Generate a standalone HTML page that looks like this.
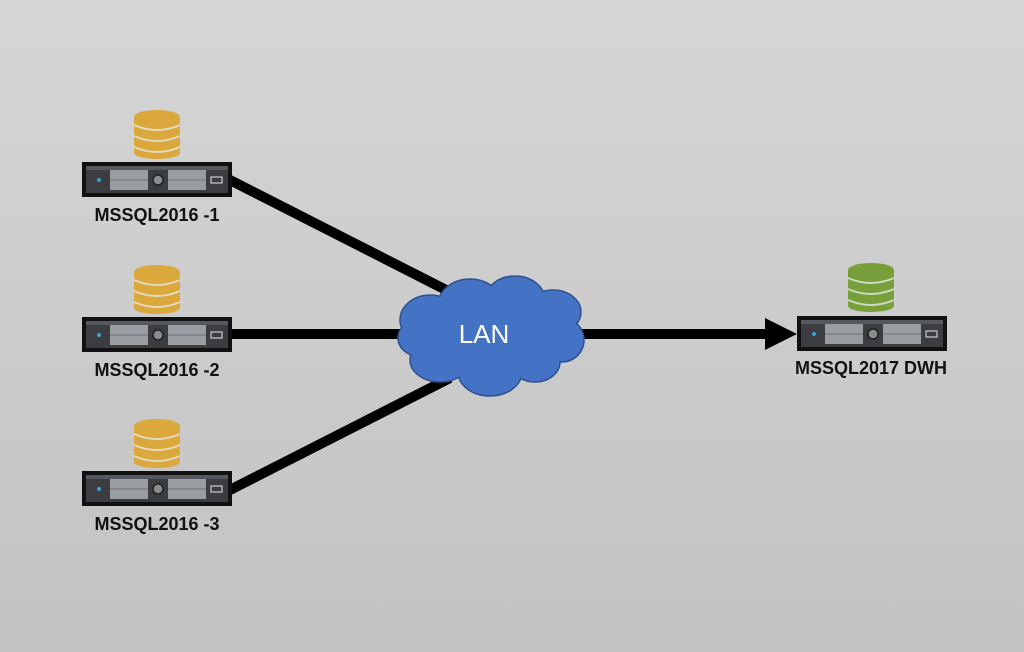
<!DOCTYPE html>
<html><head><style>
html,body{margin:0;padding:0;}
body{width:1024px;height:652px;overflow:hidden;background:linear-gradient(#d6d6d6,#c2c2c2);}
svg{display:block;}
text{font-family:"Liberation Sans",sans-serif;}
</style></head><body>
<svg width="1024" height="652" viewBox="0 0 1024 652" xmlns="http://www.w3.org/2000/svg">
<defs>
<g id="srv">
<rect x="0" y="0" width="150" height="35" fill="#111"/>
<rect x="4" y="4" width="142" height="27" fill="#3b3d40"/>
<rect x="4" y="4" width="142" height="4" fill="#55585c"/>
<rect x="28" y="8" width="38" height="20" fill="#9a9da2"/>
<line x1="28" y1="18" x2="66" y2="18" stroke="#6f7276" stroke-width="1"/>
<rect x="86" y="8" width="38" height="20" fill="#9a9da2"/>
<line x1="86" y1="18" x2="124" y2="18" stroke="#6f7276" stroke-width="1"/>
<circle cx="76" cy="18" r="5" fill="#8a8d90" stroke="#222" stroke-width="1.5"/>
<circle cx="17" cy="18" r="2" fill="#3aa0d8"/>
<rect x="129" y="15" width="11" height="6" fill="none" stroke="#ccc" stroke-width="1.2"/>
</g>
<g id="db">
<rect x="-23" y="8" width="46" height="36" fill="currentColor"/>
<ellipse cx="0" cy="44" rx="23" ry="6" fill="currentColor"/>
<ellipse cx="0" cy="8" rx="23" ry="7" fill="currentColor"/>
<path d="M-23 16 Q0 26 23 16" stroke="#e6e6e6" stroke-width="2" fill="none" opacity="0.8"/>
<path d="M-23 27 Q0 37 23 27" stroke="#e6e6e6" stroke-width="2" fill="none" opacity="0.8"/>
<path d="M-23 38 Q0 48 23 38" stroke="#e6e6e6" stroke-width="2" fill="none" opacity="0.8"/>
</g>
</defs>
<g stroke="#000" stroke-width="10">
<line x1="228" y1="179" x2="450" y2="292"/>
<line x1="228" y1="334" x2="405" y2="334"/>
<line x1="228" y1="491" x2="450" y2="378"/>
<line x1="580" y1="334" x2="770" y2="334"/>
</g>
<polygon points="765,318 797,334 765,350" fill="#000"/>
<g fill="#4472c4" stroke="#2f528f" stroke-width="1.5">
<ellipse cx="430" cy="320" rx="30" ry="25"/>
<ellipse cx="470" cy="305" rx="32" ry="26"/>
<ellipse cx="515" cy="300" rx="30" ry="24"/>
<ellipse cx="553" cy="312" rx="28" ry="22"/>
<ellipse cx="562" cy="340" rx="22" ry="22"/>
<ellipse cx="535" cy="362" rx="25" ry="20"/>
<ellipse cx="490" cy="372" rx="32" ry="24"/>
<ellipse cx="440" cy="360" rx="30" ry="22"/>
<ellipse cx="418" cy="338" rx="20" ry="18"/>
</g>
<g fill="#4472c4">
<ellipse cx="430" cy="320" rx="29" ry="24"/>
<ellipse cx="470" cy="305" rx="31" ry="25"/>
<ellipse cx="515" cy="300" rx="29" ry="23"/>
<ellipse cx="553" cy="312" rx="27" ry="21"/>
<ellipse cx="562" cy="340" rx="21" ry="21"/>
<ellipse cx="535" cy="362" rx="24" ry="19"/>
<ellipse cx="490" cy="372" rx="31" ry="23"/>
<ellipse cx="440" cy="360" rx="29" ry="21"/>
<ellipse cx="418" cy="338" rx="19" ry="17"/>
<rect x="430" y="300" width="120" height="70"/>
</g>
<text x="484" y="343" fill="#fff" font-size="26" text-anchor="middle">LAN</text>
<g color="#dba83c">
<use href="#db" transform="translate(157,109)"/>
<use href="#db" transform="translate(157,264)"/>
<use href="#db" transform="translate(157,418)"/>
</g>
<use href="#db" transform="translate(871,262)" color="#77a03a"/>
<use href="#srv" transform="translate(82,162)"/>
<use href="#srv" transform="translate(82,317)"/>
<use href="#srv" transform="translate(82,471)"/>
<use href="#srv" transform="translate(797,316)"/>
<g font-size="18" font-weight="bold" text-anchor="middle" fill="#111">
<text x="157" y="221">MSSQL2016 -1</text>
<text x="157" y="376">MSSQL2016 -2</text>
<text x="157" y="530">MSSQL2016 -3</text>
<text x="871" y="374">MSSQL2017 DWH</text>
</g>
</svg>
</body></html>
